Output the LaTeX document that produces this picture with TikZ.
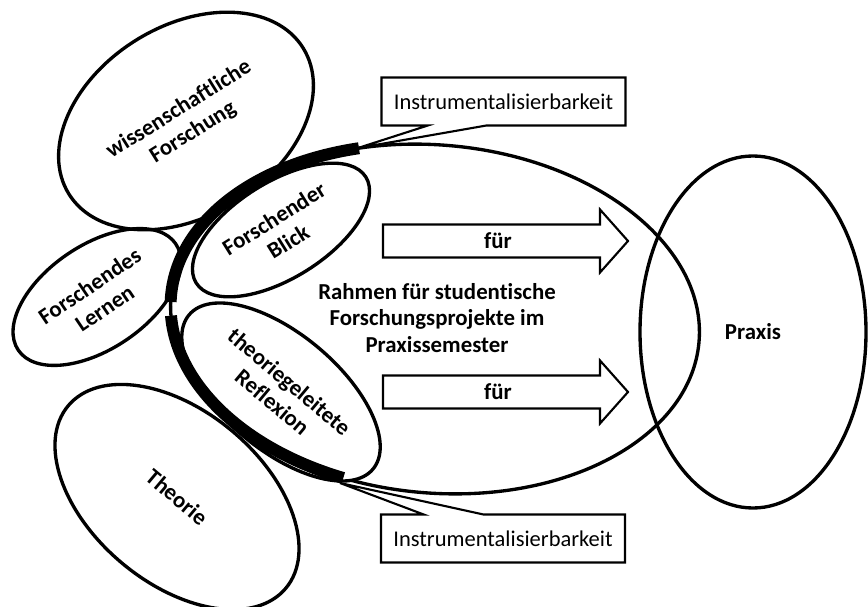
\documentclass[tikz,border=0pt]{standalone}
\usepackage{fontspec}
\setmainfont{Carlito}[Ligatures=NoCommon]
\usetikzlibrary{shapes.geometric,calc}
\newlength\pxu
\setlength\pxu{0.02cm}
\begin{document}
\begin{tikzpicture}[x=0.02cm,y=-0.02cm,
  every node/.style={font=\fontsize{12.8}{15.2}\selectfont},
  bub/.style={ellipse, draw, line width=1.9pt, inner sep=0pt, align=center,
    font=\fontsize{13}{15.2}\selectfont\bfseries},
  whitebub/.style={bub, fill=white},
  frameline/.style={line width=1.9pt},
  thickarc/.style={line width=6.8pt, line cap=butt},
  blockarrow/.style={draw, line width=1.2pt, line join=miter},
  boldtext/.style={font=\fontsize{13}{15.2}\selectfont\bfseries, align=center},
  ibox/.style={minimum width=244\pxu, minimum height=48\pxu, inner sep=0pt, outer sep=0pt},
  callout/.style={draw, line width=1.2pt, line join=miter}]
\useasboundingbox (0,0) rectangle (868,607);

% outer ellipses
\node[bub, minimum width=284\pxu, minimum height=172\pxu, rotate=-40] (theorie) at (177,497) {Theorie};
\node[bub, minimum width=276\pxu, minimum height=190\pxu, rotate=32] (wiss) at (186,121) {wissenschaftliche\\Forschung};
\node[bub, minimum width=190\pxu, minimum height=104\pxu, rotate=34] (lernen) at (97,297) {Forschendes\\Lernen};

% frame of the research projects
\begin{scope}[rotate around={-5:(435,319)}]
  \draw[frameline] (435,319) ellipse[x radius=265, y radius=174];
\end{scope}

\node[whitebub, minimum width=240\pxu, minimum height=116\pxu, rotate=-40] (reflexion) at (281,392) {theoriegeleitete\\Reflexion};
\node[whitebub, minimum width=200\pxu, minimum height=96\pxu, rotate=32] (blick) at (281,230) {Forschender\\Blick};

\begin{scope}[rotate around={-5:(435,319)}]
  \draw[thickarc] (435,319) ++(178:265 and 174) arc[start angle=178, end angle=250, x radius=265, y radius=174];
  \draw[thickarc] (435,319) ++(107:265 and 174) arc[start angle=107, end angle=173.5, x radius=265, y radius=174];
\end{scope}

\node[boldtext] (rahmen) at (437,318) {Rahmen für studentische\\Forschungsprojekte im\\Praxissemester};

% Praxis
\node[bub, minimum width=226\pxu, minimum height=352\pxu] (praxis) at (753,332) {Praxis};

% block arrows
\node[boldtext] (fuer1) at (498,241) {für};
\draw[blockarrow] ([shift={(-115,-16.5)}]fuer1.center) -- ++(217,0) -- ++(0,-15) -- ++(28,31.5) -- ++(-28,31.5) -- ++(0,-15) -- ++(-217,0) -- cycle;
\node[boldtext] (fuer2) at (498,392) {für};
\draw[blockarrow] ([shift={(-115,-16.5)}]fuer2.center) -- ++(217,0) -- ++(0,-15) -- ++(28,31.5) -- ++(-28,31.5) -- ++(0,-15) -- ++(-217,0) -- cycle;

% callouts
\node[ibox] (ib1) at (503.5,101.5) {Instrumentalisierbarkeit};
\coordinate (tip1) at (358,148);
\draw[callout] ($(ib1.south west)!0.19!(ib1.south east)$) -- (ib1.south west) -- (ib1.north west) -- (ib1.north east) -- (ib1.south east) -- ($(ib1.south west)!0.43!(ib1.south east)$) -- (tip1) -- cycle;

\node[ibox] (ib2) at (503,538.5) {Instrumentalisierbarkeit};
\coordinate (tip2) at (340,483);
\draw[callout] ($(ib2.north west)!0.175!(ib2.north east)$) -- (ib2.north west) -- (ib2.south west) -- (ib2.south east) -- (ib2.north east) -- ($(ib2.north west)!0.42!(ib2.north east)$) -- (tip2) -- cycle;
\end{tikzpicture}
\end{document}
